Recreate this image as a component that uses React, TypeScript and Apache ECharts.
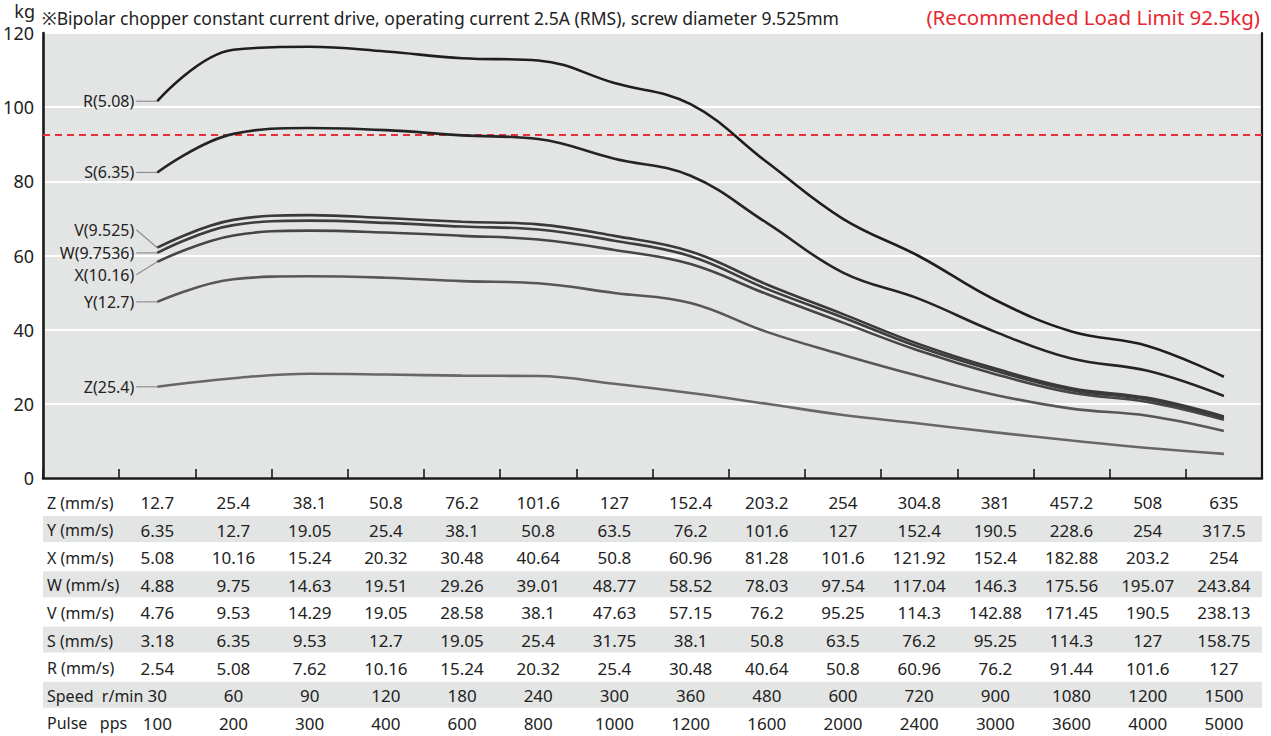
import { useEffect, useRef } from 'react';
import * as echarts from 'echarts';

// ---------------- data ----------------
// first category is the empty label column of the table
const categories = ['', '100', '200', '300', '400', '600', '800', '1000', '1200', '1600', '2000', '2400', '3000', '3600', '4000', '5000'];

const seriesNames = ['R(5.08)', 'S(6.35)', 'V(9.525)', 'W(9.7536)', 'X(10.16)', 'Y(12.7)', 'Z(25.4)'];
const rLoad = [101.6, 115.5, 116.3, 115.0, 113.2, 112.6, 106.5, 100.8, 85.2, 69.9, 59.8, 48.0, 39.5, 35.6, 27.3];
const sLoad = [82.4, 92.8, 94.4, 93.8, 92.4, 91.4, 86.1, 81.5, 68.8, 55.4, 48.3, 39.4, 32.2, 28.9, 22.1];
const vLoad = [62.1, 69.6, 70.9, 70.1, 69.1, 68.4, 65.3, 61.1, 52.2, 44.2, 36.1, 29.5, 24.2, 21.6, 16.6];
const wLoad = [60.7, 68.2, 69.4, 68.8, 67.8, 67.0, 64.0, 59.8, 51.0, 43.3, 35.3, 28.9, 23.7, 21.1, 16.2];
const xLoad = [58.3, 65.4, 66.7, 66.2, 65.3, 64.3, 61.5, 57.7, 49.6, 41.9, 34.3, 28.0, 23.0, 20.5, 15.7];
const yLoad = [47.5, 53.6, 54.4, 54.0, 53.1, 52.5, 49.9, 47.2, 39.4, 33.2, 27.5, 22.4, 18.7, 16.8, 12.7];
const zLoad = [24.6, 26.9, 28.1, 27.9, 27.6, 27.5, 25.4, 22.9, 20.0, 17.0, 14.7, 12.3, 10.1, 8.1, 6.5];
const loadLimit = 92.5;

const yMin = 0;
const yMax = 120;
const yInterval = 20;

const titleText = '※Bipolar chopper constant current drive, operating current 2.5A (RMS), screw diameter 9.525mm';
const limitText = '(Recommended Load Limit 92.5kg)';
const unitText = 'kg';

const tableLabels = ['Z (mm/s)', 'Y (mm/s)', 'X (mm/s)', 'W (mm/s)', 'V (mm/s)', 'S (mm/s)', 'R (mm/s)', 'Speed  r/min', 'Pulse   pps'];
const zSpeed = ['12.7', '25.4', '38.1', '50.8', '76.2', '101.6', '127', '152.4', '203.2', '254', '304.8', '381', '457.2', '508', '635'];
const ySpeed = ['6.35', '12.7', '19.05', '25.4', '38.1', '50.8', '63.5', '76.2', '101.6', '127', '152.4', '190.5', '228.6', '254', '317.5'];
const xSpeed = ['5.08', '10.16', '15.24', '20.32', '30.48', '40.64', '50.8', '60.96', '81.28', '101.6', '121.92', '152.4', '182.88', '203.2', '254'];
const wSpeed = ['4.88', '9.75', '14.63', '19.51', '29.26', '39.01', '48.77', '58.52', '78.03', '97.54', '117.04', '146.3', '175.56', '195.07', '243.84'];
const vSpeed = ['4.76', '9.53', '14.29', '19.05', '28.58', '38.1', '47.63', '57.15', '76.2', '95.25', '114.3', '142.88', '171.45', '190.5', '238.13'];
const sSpeed = ['3.18', '6.35', '9.53', '12.7', '19.05', '25.4', '31.75', '38.1', '50.8', '63.5', '76.2', '95.25', '114.3', '127', '158.75'];
const rSpeed = ['2.54', '5.08', '7.62', '10.16', '15.24', '20.32', '25.4', '30.48', '40.64', '50.8', '60.96', '76.2', '91.44', '101.6', '127'];
const motorSpeed = ['30', '60', '90', '120', '180', '240', '300', '360', '480', '600', '720', '900', '1080', '1200', '1500'];
const pulseRate = ['100', '200', '300', '400', '600', '800', '1000', '1200', '1600', '2000', '2400', '3000', '3600', '4000', '5000'];

// ---------------- styling ----------------
const W = 1271;
const H = 736;
const FONT = '"Noto Sans", "DejaVu Sans", sans-serif';
const GRID = { left: 43, top: 33, right: 9, bottom: 258 };
const lineColors = ['#1e1e1e', '#242424', '#393939', '#3d3d3d', '#464646', '#575757', '#676767'];
const labelDy = [0, 0, -18, 0, 13, 0, 0];
const rowY0 = 502.5;
const rowStep = 27.6;

export default function App() {
  const ref = useRef<HTMLDivElement>(null);

  useEffect(() => {
    if (!ref.current) return;
    const chart = echarts.init(ref.current, null, { renderer: 'svg' });
    const loads = [rLoad, sLoad, vLoad, wLoad, xLoad, yLoad, zLoad];
    const tableRows = [zSpeed, ySpeed, xSpeed, wSpeed, vSpeed, sSpeed, rSpeed, motorSpeed, pulseRate];

    const series: any[] = loads.map((d, i) => ({
      type: 'line',
      name: seriesNames[i],
      data: [null, ...d],
      smooth: 0.4,
      symbol: 'none',
      z: 10 - i,
      lineStyle: { color: lineColors[i], width: 2.6 },
      ...(i === 0
        ? {
            markLine: {
              silent: true,
              symbol: 'none',
              label: { show: false },
              lineStyle: { color: '#e9303a', type: [7, 5], width: 2 },
              data: [{ yAxis: loadLimit }],
            },
          }
        : {}),
    }));

    chart.setOption({
      animation: false,
      grid: {
        ...GRID,
        show: true,
        backgroundColor: '#e3e5e4',
        borderWidth: 0,
      },
      xAxis: {
        type: 'category',
        data: categories,
        boundaryGap: true,
        axisLine: { show: true, lineStyle: { color: '#1a1a1a', width: 2.6 } },
        axisTick: { show: true, inside: true, length: 9, interval: 0, lineStyle: { color: '#1a1a1a', width: 1.6 } },
        axisLabel: { show: false },
        splitLine: { show: false },
      },
      yAxis: [
        {
          type: 'value',
          min: yMin,
          max: yMax,
          interval: yInterval,
          name: unitText,
          nameLocation: 'end',
          nameGap: 13,
          nameTextStyle: { align: 'right', fontSize: 18, color: '#222', fontFamily: FONT, padding: [0, 8, 0, 0] },
          axisLine: { show: true, lineStyle: { color: '#1a1a1a', width: 2.6 } },
          axisTick: { show: false },
          axisLabel: { fontSize: 18, color: '#222', fontFamily: FONT, margin: 9 },
          splitLine: { show: true, lineStyle: { color: '#ffffff', width: 2 } },
        },
        {
          type: 'value',
          min: yMin,
          max: yMax,
          interval: yInterval,
          position: 'right',
          axisLine: { show: true, lineStyle: { color: '#1a1a1a', width: 2.2 } },
          axisTick: { show: false },
          axisLabel: { show: false },
          splitLine: { show: false },
        },
      ],
      series,
    });

    const gx = (j: number) => chart.convertToPixel({ xAxisIndex: 0 }, j) as number;
    const gy = (v: number) => chart.convertToPixel({ yAxisIndex: 0 }, v) as number;
    const left = GRID.left;
    const right = W - GRID.right;

    const graphics: any[] = [];
    graphics.push({
      type: 'text', silent: true, x: 42, y: 18,
      style: { text: titleText, fill: '#222', fontSize: 17.5, fontFamily: FONT, verticalAlign: 'middle', align: 'left' },
    });
    graphics.push({
      type: 'text', silent: true, x: 1260, y: 17,
      style: { text: limitText, fill: '#e8262f', fontSize: 20.5, fontFamily: FONT, verticalAlign: 'middle', align: 'right' },
    });

    // series labels with leader lines
    loads.forEach((d, i) => {
      const px = gx(1);
      const py = gy(d[0]);
      const ty = py + labelDy[i];
      graphics.push({
        type: 'line', silent: true, z: 5,
        shape: { x1: px - 21, y1: ty, x2: px, y2: py },
        style: { stroke: '#8e8e8e', lineWidth: 1.2 },
      });
      graphics.push({
        type: 'text', silent: true, z: 5, x: px - 23, y: ty,
        style: { text: seriesNames[i], fill: '#222', fontSize: 16, lineHeight: 16, fontFamily: FONT, verticalAlign: 'middle', align: 'right' },
      });
    });

    // table
    tableRows.forEach((row, r) => {
      const cy = rowY0 + r * rowStep;
      if (r % 2 === 1) {
        graphics.push({
          type: 'rect', silent: true, z: 1,
          shape: { x: left, y: cy - 14, width: right - left, height: 26 },
          style: { fill: '#e3e5e4' },
        });
      }
      graphics.push({
        type: 'text', silent: true, z: 2, x: 47, y: cy,
        style: { text: tableLabels[r], fill: '#222', fontSize: 16, fontFamily: FONT, verticalAlign: 'middle', align: 'left' },
      });
      row.forEach((t, j) => {
        graphics.push({
          type: 'text', silent: true, z: 2, x: gx(j + 1), y: cy,
          style: { text: t, fill: '#222', fontSize: 17, fontFamily: FONT, verticalAlign: 'middle', align: 'center' },
        });
      });
    });

    chart.setOption({ graphic: graphics });

    return () => chart.dispose();
  }, []);

  return (
    <div
      ref={ref}
      style={{ position: 'fixed', left: 0, top: 0, width: W, height: H, background: '#ffffff' }}
    />
  );
}
